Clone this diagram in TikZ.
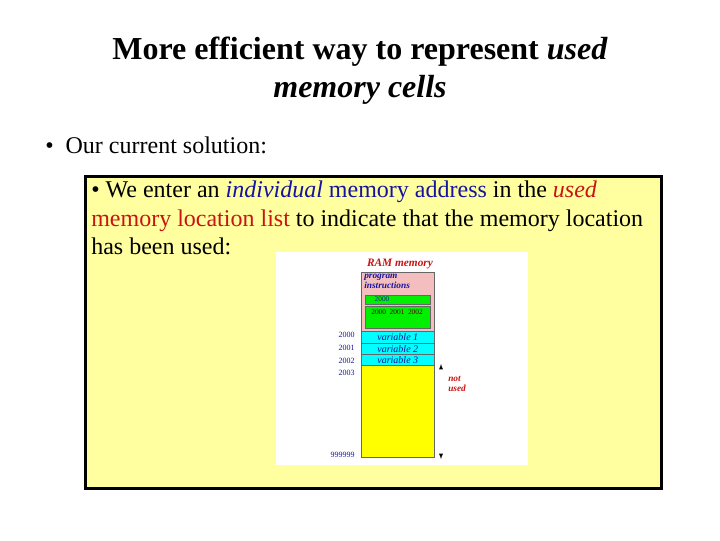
\documentclass[tikz,border=0pt]{standalone}
\usepackage{fontspec}
\setmainfont{Liberation Serif}
\definecolor{paleY}{RGB}{255,255,160}
\definecolor{addrB}{RGB}{20,20,160}
\definecolor{redT}{RGB}{200,20,20}
\definecolor{pinkM}{RGB}{245,190,190}
\definecolor{cyanM}{RGB}{0,255,255}
\definecolor{yelM}{RGB}{255,255,0}
\definecolor{grnM}{RGB}{0,240,0}
\begin{document}
\begin{tikzpicture}[x=0.75pt,y=-0.75pt,
  lbl/.style={inner sep=0pt},
  mem/.style={draw=black!60,line width=0.4pt},
  addr/.style={inner sep=0pt,anchor=east,text=addrB,font=\fontsize{6}{7}\selectfont},
  var/.style={inner sep=0pt,font=\itshape\fontsize{7.5}{8}\selectfont,text=addrB}]
\useasboundingbox (0,0) rectangle (720,540);
\node[lbl,align=center,font=\bfseries\fontsize{24}{28.5}\selectfont] (title) at (360,71)
  {More efficient way to represent \textit{used}\\ \textit{memory cells}};
\node[lbl,anchor=west,font=\fontsize{18}{21}\selectfont] (b1) at (45,145) {•\ \ Our current solution:};
\node[draw=black,line width=2.2pt,fill=paleY,minimum width=432pt,minimum height=234pt,anchor=north west,inner sep=0pt] (box) at (84,175) {};
\node[lbl,anchor=north west,align=left,font=\fontsize{18}{21.4}\selectfont] (txt) at (91,181)
  {• We enter an \textcolor{addrB}{\textit{individual} memory address} in the \textcolor{redT}{\textit{used}}\\
   \textcolor{redT}{memory location list} to indicate that the memory location\\
   has been used:};
\fill[white] (276,252) rectangle (528,465);
\node[lbl,text=redT,font=\bfseries\itshape\fontsize{8.5}{9}\selectfont] (ramt) at (400,264) {RAM memory};
\node[mem,fill=pinkM,anchor=north west,minimum width=54.75pt,minimum height=44.25pt,inner sep=0pt] (prog) at (361,272) {};
\node[lbl,anchor=north west,align=left,text=addrB,font=\bfseries\itshape\fontsize{7}{7.5}\selectfont] (pt) at (364,274) {program\\instructions};
\node[mem,fill=grnM,anchor=north west,minimum width=48.75pt,minimum height=6.75pt,inner sep=0pt] (g1) at (365,295) {};
\node[lbl,text=addrB,font=\fontsize{5.5}{6}\selectfont] at (382,299.5) {2000};
\node[mem,fill=grnM,anchor=north west,minimum width=48.75pt,minimum height=16.5pt,inner sep=0pt] (g2) at (365,306) {};
\node[lbl,text=black!70!red,font=\fontsize{5.5}{6}\selectfont] at (397,312) {2000\ \ 2001\ \ 2002};
\node[mem,fill=cyanM,anchor=north west,minimum width=54.75pt,minimum height=9pt,inner sep=0pt] (v1) at (361,331) {};
\node[mem,fill=cyanM,anchor=north west,minimum width=54.75pt,minimum height=8.25pt,inner sep=0pt] (v2) at (361,343) {};
\node[mem,fill=cyanM,anchor=north west,minimum width=54.75pt,minimum height=8.25pt,inner sep=0pt] (v3) at (361,354) {};
\node[var] at (v1) {variable 1};
\node[var] at (v2) {variable 2};
\node[var] at (v3) {variable 3};
\node[mem,fill=yelM,anchor=north west,minimum width=54.75pt,minimum height=69pt,inner sep=0pt] (free) at (361,365) {};
\node[addr] at (355,335) {2000};
\node[addr] at (355,348) {2001};
\node[addr] at (355,361) {2002};
\node[addr] at (355,373) {2003};
\node[addr] at (355,455) {999999};
\coordinate (at) at (441,367);
\coordinate (ab) at (441,456);
\draw[-latex,line width=0.4pt] (at) -- ++(0,-3);
\draw[-latex,line width=0.4pt] (ab) -- ++(0,3);
\node[lbl,anchor=north west,align=left,text=redT,font=\bfseries\itshape\fontsize{7}{7.5}\selectfont] (nu) at (448,376) {not\\used};
\end{tikzpicture}
\end{document}
